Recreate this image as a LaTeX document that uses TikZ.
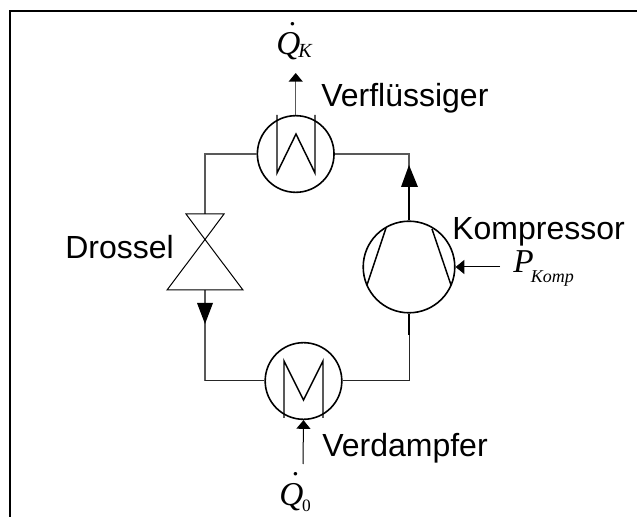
\documentclass[tikz,border=0pt]{standalone}
\usepackage{fontspec}
\setmainfont{Liberation Sans}
\newfontfamily\serifit{Liberation Serif}
\usetikzlibrary{arrows.meta}
\tikzset{
  every picture/.style={x=0.75pt,y=-0.75pt},
  hx/.style={circle,draw,line width=1.2pt,minimum size=57.5pt,inner sep=0pt},
  comp/.style={circle,draw,line width=1.2pt,minimum size=68.7pt,inner sep=0pt},
  pipe/.style={line width=1pt,draw=black!65},
  thinpipe/.style={line width=0.75pt,draw=black!85},
  thickpipe/.style={line width=1.1pt,draw=black},
  sym/.style={line width=1.1pt,line join=miter},
  valve/.style={line width=0.75pt,line join=miter},
  small/.style={-{Triangle[length=6.5pt,width=10.5pt,color=black]}},
  lab/.style={inner sep=0pt,font=\fontsize{24pt}{26pt}\selectfont,anchor=base west},
  qty/.style={inner sep=0pt,font=\serifit\itshape\fontsize{25pt}{27pt}\selectfont,anchor=base west}
}
\newcommand{\qdot}{\rlap{\kern6.5pt\raisebox{8pt}{˙}}Q}
\newcommand{\subK}[1]{\raisebox{-2.25pt}{\fontsize{15pt}{16pt}\selectfont #1}}
\newcommand{\subP}[1]{\raisebox{-7pt}{\fontsize{13.5pt}{15pt}\selectfont #1}}
\newcommand{\subO}[1]{\raisebox{-5.25pt}{\fontsize{13pt}{15pt}\selectfont\upshape #1}}
\begin{document}
\begin{tikzpicture}
\useasboundingbox (0,0) rectangle (637,517);
\draw[line width=1.5pt] (10,517) -- (10,11) -- (637,11);
% components
\node[hx] (V) at (295.7,154) {};
\node[hx] (E) at (303.5,381) {};
\node[comp] (K) at (409,267) {};
% corners and valve points
\coordinate (TL) at (205,154);
\coordinate (BL) at (205,381);
\coordinate (TR) at (409,154);
\coordinate (BR) at (409,381);
\coordinate (VT) at (205,214);
\coordinate (VB) at (205,290);
\coordinate (VX) at (205,239.5);
\coordinate (KUp) at (409,187);
\coordinate (KDn) at (409,335);
% pipes
\draw[pipe] (V.west) -- (TL) -- (VT);
\draw[pipe] (VB) -- (BL);
\draw[thinpipe] (BL) -- (E.west);
\draw[thinpipe] (E.east) -- (BR) -- (KDn);
\draw[thickpipe] (KDn) -- (K.south);
\draw[pipe] (V.east) -- (TR) -- (KUp);
\draw[thickpipe] (KUp) -- (K.north);
\fill (409,165) -- (401,187) -- (418,187) -- cycle;
\fill (205,324) -- (197,303) -- (213,303) -- cycle;
% valve
\draw[valve] (186,214) -- (224,214) -- (VX) -- (243,290) -- (167,290) -- (VX) -- cycle;
% condenser coil
\draw[sym] (277,115) -- (277,173) -- (296,134) -- (315,173) -- (315,115);
% evaporator coil
\draw[sym] (284,418) -- (284,361) -- (303.5,400) -- (323,361) -- (323,418);
% compressor blades
\draw[sym] (386,228) -- (367,285);
\draw[sym] (432,229) -- (451,285);
% heat and power
\coordinate (Qk) at (295.7,73);
\coordinate (Q0) at (303,464);
\coordinate (Pk) at (500,267);
\draw[small,pipe] (V.north) -- (Qk);
\draw[small,line width=0.75pt] (Q0) -- (E.south);
\draw[small,line width=0.75pt] (Pk) -- (K.east);
% labels
\node[lab] (lV) at (321,107) {Verflüssiger};
\node[lab] (lK) at (452,240) {Kompressor};
\node[lab] (lD) at (65,259) {Drossel};
\node[lab] (lE) at (322,456) {Verdampfer};
\node[qty] (q1) at (276,55) {\qdot\kern-1.5pt\subK{K}};
\node[qty] (q2) at (279,505) {\qdot\kern-1pt\subO{0}};
\node[qty] (q3) at (513,273) {P\kern-2pt\subP{Komp}};
\end{tikzpicture}
\end{document}
